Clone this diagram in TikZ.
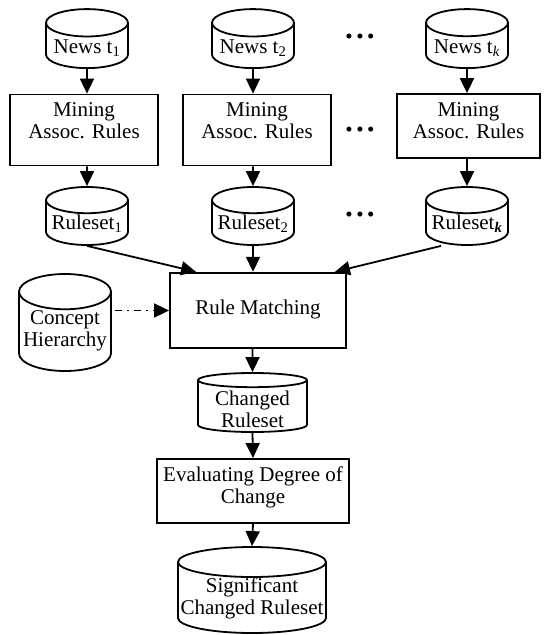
\documentclass[tikz,border=0pt]{standalone}
\usepackage{fontspec}
\setmainfont{Liberation Serif}
\usetikzlibrary{shapes.geometric, arrows.meta}

% text block moved up or down inside its shape
\newcommand{\celltext}[2]{\raisebox{#1}[0pt][0pt]{\begin{tabular}{@{}c@{}}#2\end{tabular}}}

\begin{document}
\begin{tikzpicture}[
    x=1pt, y=-1pt,
    font=\fontsize{21}{22}\selectfont,
    box/.style={rectangle, draw=black, line width=1.8pt, inner sep=0pt},
    db/.style={cylinder, shape border rotate=90, draw=black, line width=1.8pt, inner sep=0pt, aspect=0.41, anchor=shape center},
    arrow/.style={line width=1.8pt, -{Triangle[length=15pt,width=14pt]}},
    dashdot/.style={arrow, dash pattern=on 7pt off 5pt on 2pt off 5pt},
    dots/.style={inner sep=0pt}
]
\useasboundingbox (0,0) rectangle (545,635);

% News per time window
\node[db, minimum width=82pt, minimum height=59pt] (news1) at (87,38.6) {\celltext{-8.25pt}{News t\textsubscript{1}}};
\node[db, minimum width=82pt, minimum height=59pt] (news2) at (253,38.6) {\celltext{-8.25pt}{News t\textsubscript{2}}};
\node[db, minimum width=82pt, minimum height=59pt] (newsk) at (467,38.6) {\celltext{-8.25pt}{News t\textsubscript{\textit{k}}}};

% Mining
\node[box, minimum width=148pt, minimum height=71pt] (mine1) at (84,130) {\celltext{1.65pt}{Mining\\Assoc. Rules}};
\node[box, minimum width=148pt, minimum height=71pt] (mine2) at (257,130) {\celltext{1.65pt}{Mining\\Assoc. Rules}};
\node[box, minimum width=143pt, minimum height=64pt] (minek) at (468.5,126) {\celltext{-1.85pt}{Mining\\Assoc. Rules}};

% Rulesets
\node[db, aspect=0.37, minimum width=82pt, minimum height=58pt] (rs1) at (87,216) {\celltext{-7pt}{Ruleset\textsubscript{1}}};
\node[db, aspect=0.37, minimum width=82pt, minimum height=58pt] (rs2) at (253,216) {\celltext{-7pt}{Ruleset\textsubscript{2}}};
\node[db, aspect=0.37, minimum width=82pt, minimum height=58pt] (rsk) at (467,216) {\celltext{-7pt}{Ruleset\textsubscript{\textbf{\textit{k}}}}};

% Dots
\node[dots] (dots1) at (360,39) {\textbullet\,\textbullet\,\textbullet};
\node[dots] (dots2) at (360,132) {\textbullet\,\textbullet\,\textbullet};
\node[dots] (dots3) at (360,217) {\textbullet\,\textbullet\,\textbullet};

% Matching
\node[box, minimum width=176pt, minimum height=75.6pt] (match) at (258,310.5) {\celltext{-4.35pt}{Rule Matching}};
\node[db, aspect=0.42, minimum width=92pt, minimum height=97pt] (concept) at (65,322.5) {\celltext{-5pt}{Concept\\Hierarchy}};

% Output side
\node[db, aspect=0.19, minimum width=109pt, minimum height=59pt] (changed) at (252.5,402.5) {\celltext{-10.35pt}{Changed\\Ruleset}};
\node[box, minimum width=192pt, minimum height=64pt] (eval) at (253,491) {\celltext{-1.85pt}{Evaluating Degree of\\Change}};
\node[db, aspect=0.21, minimum width=148pt, minimum height=86pt] (signif) at (252,590) {\celltext{-5.85pt}{Significant\\Changed Ruleset}};

% Arrows
\draw[arrow] (news1) -- (news1 |- mine1.north);
\draw[arrow] (news2) -- (news2 |- mine2.north);
\draw[arrow] (newsk) -- (newsk |- minek.north);
\draw[arrow] (rs1 |- mine1.south) -- (rs1.north);
\draw[arrow] (rs2 |- mine2.south) -- (rs2.north);
\draw[arrow] (rsk |- minek.south) -- (rsk.north);
\draw[arrow] (rs1.south) -- ([xshift=-62pt]match.north);
\draw[arrow] (rs2.south) -- (rs2 |- match.north);
\draw[arrow] ([xshift=-26pt]rsk.south) -- ([xshift=77pt]match.north);
\draw[dashdot, shorten <=3pt] (concept.east |- match.west) -- (match.west);
\draw[arrow] (changed |- match.south) -- (changed.north);
\draw[arrow] (changed.south) -- (eval.north);
\draw[arrow] (eval.south) -- (signif.north);

\end{tikzpicture}
\end{document}
